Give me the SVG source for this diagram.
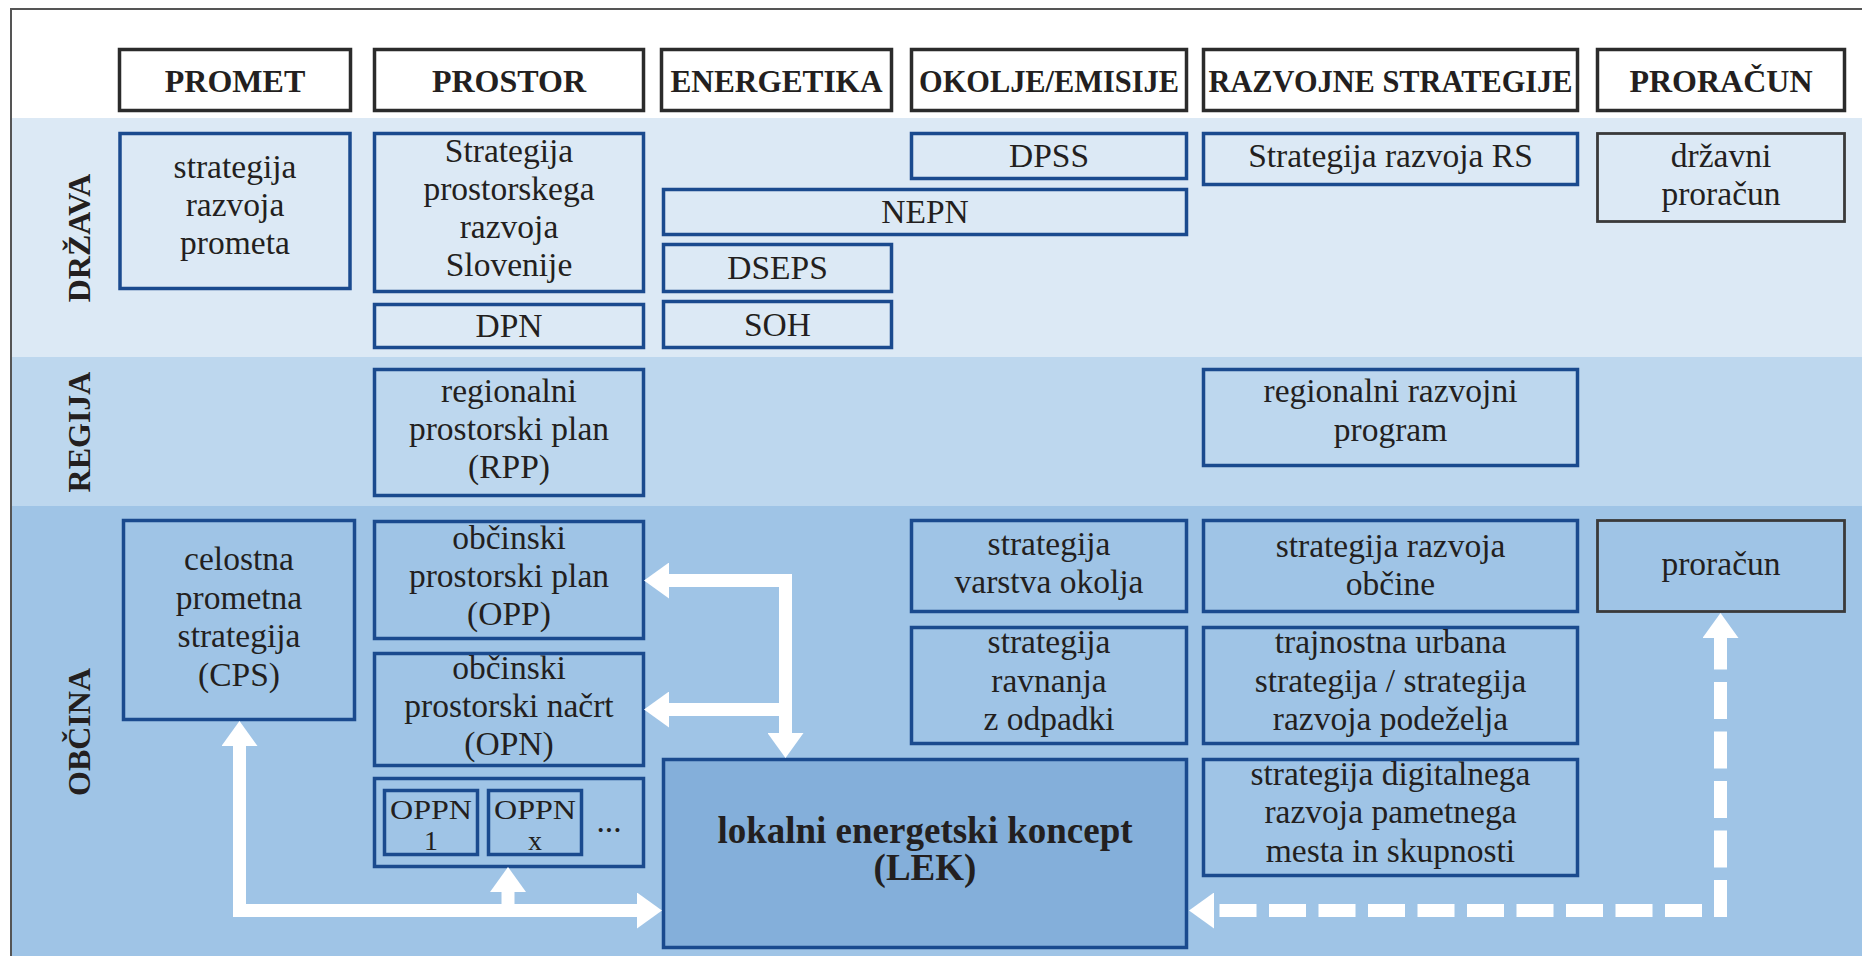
<svg xmlns="http://www.w3.org/2000/svg" width="1862" height="956" viewBox="0 0 1862 956">
<style>
.hdr rect{fill:#ffffff;stroke:#2b2b2b;stroke-width:3.5}
.hdr text{font-family:"Liberation Serif",serif;font-weight:bold;font-size:32px;fill:#231f20;text-anchor:middle}
.nb rect{fill:none;stroke:#1a4a8e;stroke-width:3.5}
.ng rect{fill:none;stroke:#3a3a3a;stroke-width:2.8}
.lek rect{fill:#84afda;stroke:#1a4a8e;stroke-width:3.5}
text{font-family:"Liberation Serif",serif;font-size:33.5px;fill:#231f20;text-anchor:middle}
.lek text{font-weight:bold;font-size:37px}
.lvl{font-weight:bold;font-size:32px}
.oppn{font-size:28px}
.conn path{fill:none;stroke:#ffffff;stroke-width:13;stroke-linejoin:miter}
.conn .dash{stroke-dasharray:37 12.5}
</style>
<defs>
<marker id="ah" markerUnits="userSpaceOnUse" markerWidth="25" markerHeight="36" viewBox="0 0 25 36" refX="0" refY="18" orient="auto-start-reverse">
<path d="M0,0 L25,18 L0,36 z" fill="#ffffff"/>
</marker>
</defs>
<rect x="0" y="0" width="1862" height="956" fill="#ffffff"/>
<g id="bands">
<rect x="12" y="118" width="1850" height="239" fill="#dce9f5"/>
<rect x="12" y="357" width="1850" height="149" fill="#bdd7ee"/>
<rect x="12" y="506" width="1850" height="450" fill="#9fc4e6"/>
<path d="M11,956 V9 H1862" fill="none" stroke="#555555" stroke-width="2"/>
</g>
<g id="levels">
<text class="lvl" transform="translate(90,238) rotate(-90)">DRŽAVA</text>
<text class="lvl" transform="translate(90,432) rotate(-90)">REGIJA</text>
<text class="lvl" transform="translate(90,732) rotate(-90)">OBČINA</text>
</g>
<g id="headers">
<g id="h_promet" class="hdr"><rect x="119.5" y="49.5" width="231" height="61"/><text x="235" y="92">PROMET</text></g>
<g id="h_prostor" class="hdr"><rect x="374.5" y="49.5" width="269" height="61"/><text x="509" y="92">PROSTOR</text></g>
<g id="h_energetika" class="hdr"><rect x="661.5" y="49.5" width="230" height="61"/><text x="776.5" y="92" textLength="212" lengthAdjust="spacingAndGlyphs">ENERGETIKA</text></g>
<g id="h_okolje" class="hdr"><rect x="911.5" y="49.5" width="275" height="61"/><text x="1049" y="92" textLength="260" lengthAdjust="spacingAndGlyphs">OKOLJE/EMISIJE</text></g>
<g id="h_razvojne" class="hdr"><rect x="1203.5" y="49.5" width="374" height="61"/><text x="1390.5" y="92" textLength="364" lengthAdjust="spacingAndGlyphs">RAZVOJNE STRATEGIJE</text></g>
<g id="h_proracun" class="hdr"><rect x="1597.5" y="49.5" width="247" height="61"/><text x="1721" y="92">PRORAČUN</text></g>
</g>
<g id="n_srp" class="nb"><rect x="120" y="133.5" width="230" height="155"/><text x="235" y="178">strategija</text><text x="235" y="216">razvoja</text><text x="235" y="254">prometa</text></g>
<g id="n_sprs" class="nb"><rect x="374.5" y="133.5" width="269" height="158"/><text x="509" y="162">Strategija</text><text x="509" y="200">prostorskega</text><text x="509" y="238">razvoja</text><text x="509" y="276">Slovenije</text></g>
<g id="n_dpn" class="nb"><rect x="374.5" y="304.5" width="269" height="43"/><text x="509" y="337">DPN</text></g>
<g id="n_dpss" class="nb"><rect x="911.5" y="133.5" width="275" height="45"/><text x="1049" y="167">DPSS</text></g>
<g id="n_nepn" class="nb"><rect x="663.5" y="189.5" width="523" height="45"/><text x="925" y="223">NEPN</text></g>
<g id="n_dseps" class="nb"><rect x="663.5" y="244.5" width="228" height="47"/><text x="777.5" y="279">DSEPS</text></g>
<g id="n_soh" class="nb"><rect x="663.5" y="301.5" width="228" height="46"/><text x="777.5" y="336">SOH</text></g>
<g id="n_srrs" class="nb"><rect x="1203.5" y="133.5" width="374" height="51"/><text x="1390.5" y="167">Strategija razvoja RS</text></g>
<g id="n_dp" class="ng"><rect x="1597.5" y="133.5" width="247" height="88"/><text x="1721" y="167">državni</text><text x="1721" y="205">proračun</text></g>
<g id="n_rpp" class="nb"><rect x="374.5" y="369.5" width="269" height="126"/><text x="509" y="402">regionalni</text><text x="509" y="440">prostorski plan</text><text x="509" y="478">(RPP)</text></g>
<g id="n_rrp" class="nb"><rect x="1203.5" y="369.5" width="374" height="96"/><text x="1390.5" y="402">regionalni razvojni</text><text x="1390.5" y="441">program</text></g>
<g id="n_cps" class="nb"><rect x="123.5" y="520.5" width="231" height="199"/><text x="239" y="570">celostna</text><text x="239" y="609">prometna</text><text x="239" y="647">strategija</text><text x="239" y="686">(CPS)</text></g>
<g id="n_opp" class="nb"><rect x="374.5" y="521.5" width="269" height="117"/><text x="509" y="549">občinski</text><text x="509" y="587">prostorski plan</text><text x="509" y="625">(OPP)</text></g>
<g id="n_opn" class="nb"><rect x="374.5" y="653.5" width="269" height="112"/><text x="509" y="679">občinski</text><text x="509" y="717">prostorski načrt</text><text x="509" y="755">(OPN)</text></g>
<g id="n_oppn" class="nb"><rect x="374.5" y="778.5" width="269" height="88"/>
<g id="n_oppn1"><rect x="384.5" y="790.5" width="93" height="64"/><text class="oppn" x="431" y="819" textLength="82" lengthAdjust="spacingAndGlyphs">OPPN</text><text class="oppn" x="431" y="850">1</text></g>
<g id="n_oppnx"><rect x="488.5" y="790.5" width="93" height="64"/><text class="oppn" x="535" y="819" textLength="82" lengthAdjust="spacingAndGlyphs">OPPN</text><text class="oppn" x="535" y="850">x</text></g>
<text x="609" y="832">...</text></g>
<g id="n_svo" class="nb"><rect x="911.5" y="520.5" width="275" height="91"/><text x="1049" y="555">strategija</text><text x="1049" y="593">varstva okolja</text></g>
<g id="n_srzo" class="nb"><rect x="911.5" y="627.5" width="275" height="116"/><text x="1049" y="653">strategija</text><text x="1049" y="692">ravnanja</text><text x="1049" y="730">z odpadki</text></g>
<g id="n_lek" class="lek"><rect x="663.5" y="759.5" width="523" height="188"/><text x="925" y="843">lokalni energetski koncept</text><text x="925" y="880">(LEK)</text></g>
<g id="n_sro" class="nb"><rect x="1203.5" y="520.5" width="374" height="91"/><text x="1390.5" y="557">strategija razvoja</text><text x="1390.5" y="595">občine</text></g>
<g id="n_tus" class="nb"><rect x="1203.5" y="627.5" width="374" height="116"/><text x="1390.5" y="653">trajnostna urbana</text><text x="1390.5" y="692">strategija / strategija</text><text x="1390.5" y="730">razvoja podeželja</text></g>
<g id="n_sdr" class="nb"><rect x="1203.5" y="759.5" width="374" height="116"/><text x="1390.5" y="785">strategija digitalnega</text><text x="1390.5" y="823">razvoja pametnega</text><text x="1390.5" y="862">mesta in skupnosti</text></g>
<g id="n_pr" class="ng"><rect x="1597.5" y="520.5" width="247" height="91"/><text x="1721" y="575">proračun</text></g>
<g id="connectors" class="conn">
<path d="M239.5,746 V910.5 H637" marker-start="url(#ah)" marker-end="url(#ah)"/>
<path d="M508,905 V892" marker-end="url(#ah)"/>
<path d="M669,580.5 H785.5 V733" marker-start="url(#ah)" marker-end="url(#ah)"/>
<path d="M785.5,709.5 H669" marker-end="url(#ah)"/>
<path class="dash" d="M1720.5,917 V638" marker-end="url(#ah)"/>
<path class="dash" d="M1702,910.5 H1214" marker-end="url(#ah)"/>
</g>
</svg>
